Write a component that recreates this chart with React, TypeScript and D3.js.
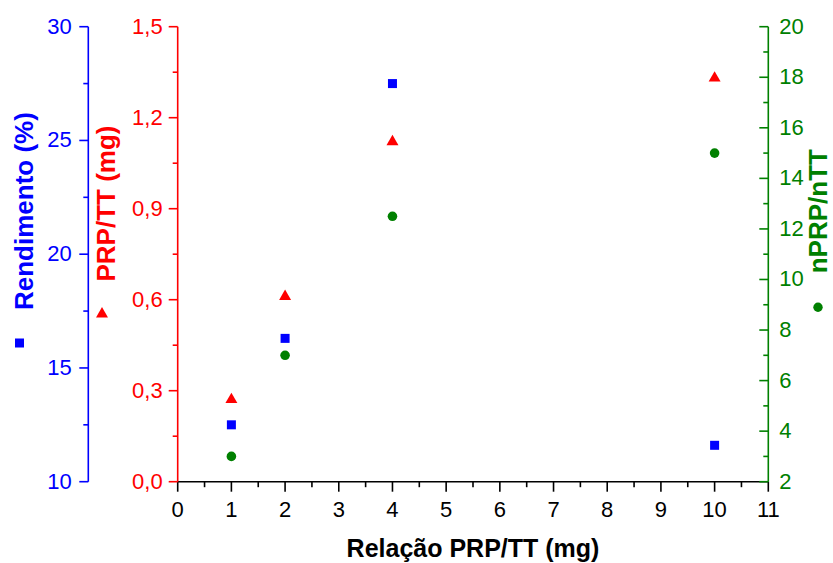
import React from "react";
import * as d3 from "d3";

const xValues = [1, 2, 4, 10];
const rendimento = [12.5, 16.3, 27.5, 11.6];
const prpTT = [0.274, 0.614, 1.124, 1.334];
const nRatio = [3.0, 7.0, 12.5, 15.0];

const xTicks = d3.range(0, 12);
const blueTicks = [10, 15, 20, 25, 30];
const redTicks = [0, 0.3, 0.6, 0.9, 1.2, 1.5];
const greenTicks = [2, 4, 6, 8, 10, 12, 14, 16, 18, 20];

const W = 833;
const H = 563;
const TOP = 26.7;
const BOTTOM = 481.7;
const LEFT = 177.7;
const RIGHT = 768.3;
const BLUE_X = 88.3;

const BLUE = "#0000ff";
const RED = "#ff0000";
const GREEN = "#008000";
const FONT = "'Liberation Sans', Arial, Helvetica, sans-serif";

export default function App() {
  const x = d3.scaleLinear().domain([0, 11]).range([LEFT, RIGHT]);
  const yBlue = d3.scaleLinear().domain([10, 30]).range([BOTTOM, TOP]);
  const yRed = d3.scaleLinear().domain([0, 1.5]).range([BOTTOM, TOP]);
  const yGreen = d3.scaleLinear().domain([2, 20]).range([BOTTOM, TOP]);

  const tri = d3.symbol().type(d3.symbolTriangle).size(62)();
  const fmtRed = (v: number) => v.toFixed(1).replace(".", ",");

  const xMinor = d3.range(0.5, 11, 1);
  const blueMinor = [12.5, 17.5, 22.5, 27.5];
  const redMinor = [0.15, 0.45, 0.75, 1.05, 1.35];
  const greenMinor = d3.range(3, 20, 2);

  return (
    <svg width={W} height={H} style={{ position: "absolute", left: 0, top: 0 }} fontFamily={FONT}>
      <rect width={W} height={H} fill="#fff" />

      {/* X axis */}
      <line x1={LEFT} x2={RIGHT} y1={BOTTOM} y2={BOTTOM} stroke="#000" strokeWidth={1.6} />
      {xTicks.map((t) => (
        <g key={"xt" + t}>
          <line x1={x(t)} x2={x(t)} y1={BOTTOM} y2={BOTTOM + 10} stroke="#000" strokeWidth={1.6} />
          <text x={x(t)} y={517} textAnchor="middle" fontSize={22} fill="#000">{t}</text>
        </g>
      ))}
      {xMinor.map((t) => (
        <line key={"xm" + t} x1={x(t)} x2={x(t)} y1={BOTTOM} y2={BOTTOM + 5.5} stroke="#000" strokeWidth={1.6} />
      ))}
      <text x={(LEFT + RIGHT) / 2} y={557} textAnchor="middle" fontSize={25} fontWeight="bold" fill="#000">
        Relação PRP/TT (mg)
      </text>

      {/* Blue axis */}
      <line x1={BLUE_X} x2={BLUE_X} y1={TOP} y2={BOTTOM} stroke={BLUE} strokeWidth={1.6} />
      {blueTicks.map((t) => (
        <g key={"bt" + t}>
          <line x1={BLUE_X - 9} x2={BLUE_X} y1={yBlue(t)} y2={yBlue(t)} stroke={BLUE} strokeWidth={1.6} />
          <text x={71.7} y={yBlue(t) + 7} textAnchor="end" fontSize={22} fill={BLUE}>{t}</text>
        </g>
      ))}
      {blueMinor.map((t) => (
        <line key={"bm" + t} x1={BLUE_X - 5} x2={BLUE_X} y1={yBlue(t)} y2={yBlue(t)} stroke={BLUE} strokeWidth={1.6} />
      ))}
      <text transform="translate(33,310) rotate(-90)" fontSize={26} fontWeight="bold" fill={BLUE}>
        Rendimento (%)
      </text>
      <rect x={15} y={338.5} width={9} height={9} fill={BLUE} />

      {/* Red axis */}
      <line x1={LEFT} x2={LEFT} y1={TOP} y2={BOTTOM} stroke={RED} strokeWidth={1.6} />
      {redTicks.map((t) => (
        <g key={"rt" + t}>
          <line x1={LEFT - 9} x2={LEFT} y1={yRed(t)} y2={yRed(t)} stroke={RED} strokeWidth={1.6} />
          <text x={162.7} y={yRed(t) + 7} textAnchor="end" fontSize={22} fill={RED}>{fmtRed(t)}</text>
        </g>
      ))}
      {redMinor.map((t) => (
        <line key={"rm" + t} x1={LEFT - 5} x2={LEFT} y1={yRed(t)} y2={yRed(t)} stroke={RED} strokeWidth={1.6} />
      ))}
      <text transform="translate(115,281.5) rotate(-90)" fontSize={26} fontWeight="bold" fill={RED}>
        PRP/TT (mg)
      </text>
      <path d={tri!} transform="translate(102,314)" fill={RED} />

      {/* Green axis */}
      <line x1={RIGHT} x2={RIGHT} y1={TOP} y2={BOTTOM} stroke={GREEN} strokeWidth={1.6} />
      {greenTicks.map((t) => (
        <g key={"gt" + t}>
          <line x1={RIGHT - 9} x2={RIGHT} y1={yGreen(t)} y2={yGreen(t)} stroke={GREEN} strokeWidth={1.6} />
          <text x={779.3} y={yGreen(t) + 7} textAnchor="start" fontSize={22} fill={GREEN}>{t}</text>
        </g>
      ))}
      {greenMinor.map((t) => (
        <line key={"gm" + t} x1={RIGHT - 5} x2={RIGHT} y1={yGreen(t)} y2={yGreen(t)} stroke={GREEN} strokeWidth={1.6} />
      ))}
      <text transform="translate(827,273.3) rotate(-90)" fontSize={26} fontWeight="bold" fill={GREEN}>
        nPRP/nTT
      </text>
      <circle cx={818} cy={307.3} r={4.7} fill={GREEN} />

      {/* Data */}
      {xValues.map((xv, i) => (
        <rect key={"s" + i} x={x(xv) - 4.5} y={yBlue(rendimento[i]) - 4.5} width={9} height={9} fill={BLUE} />
      ))}
      {xValues.map((xv, i) => (
        <path key={"t" + i} d={tri!} transform={`translate(${x(xv)},${yRed(prpTT[i]) + 1})`} fill={RED} />
      ))}
      {xValues.map((xv, i) => (
        <circle key={"c" + i} cx={x(xv)} cy={yGreen(nRatio[i])} r={4.8} fill={GREEN} />
      ))}
    </svg>
  );
}
